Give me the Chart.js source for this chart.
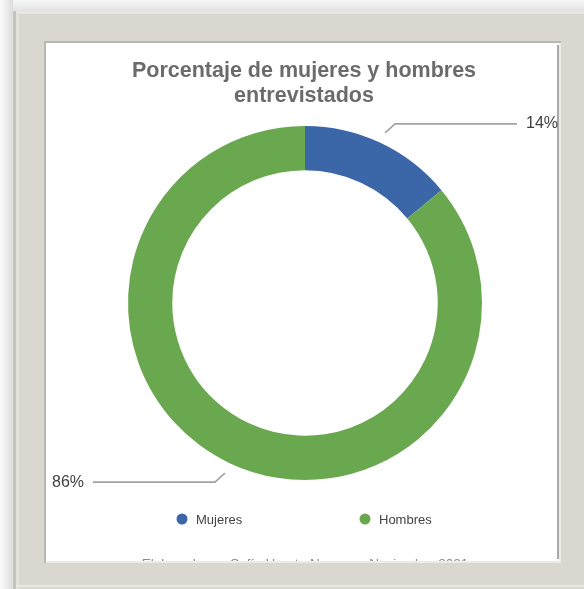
<!DOCTYPE html>
<html>
<head>
<meta charset="utf-8">
<script src="https://cdn.jsdelivr.net/npm/chart.js@4/dist/chart.umd.min.js"></script>
<style>
html,body{margin:0;padding:0;background:#fff;}
canvas{display:block;}
</style>
</head>
<body>
<canvas id="c" width="584" height="589"></canvas>
<script>
// ---- data ----
const categories = ['Mujeres', 'Hombres'];
const values = [14, 86];
const valueLabels = ['14%', '86%'];
const titleLines = ['Porcentaje de mujeres y hombres', 'entrevistados'];
const footerText = 'Elaborado por Sofía Huerta Noguera. Noviembre 2021';

const sliceColors = ['#3b66a8', '#69a84f'];
const FONT = '"Liberation Sans", Arial, Helvetica, sans-serif';

const panel = {x: 46, y: 43, w: 513, h: 518};

const framePlugin = {
  id: 'frame',
  beforeDraw(chart) {
    const ctx = chart.ctx;
    ctx.save();
    ctx.fillStyle = '#f4f4f4';
    ctx.fillRect(0, 0, 584, 589);
    let g = ctx.createLinearGradient(0, 0, 13, 0);
    g.addColorStop(0, '#fbfbfb'); g.addColorStop(1, '#dcdcdc');
    ctx.fillStyle = g; ctx.fillRect(0, 0, 13, 589);
    g = ctx.createLinearGradient(0, 0, 0, 11);
    g.addColorStop(0, '#f7f7f7'); g.addColorStop(1, '#e2e2e2');
    ctx.fillStyle = g; ctx.fillRect(13, 0, 571, 11);
    // frame
    ctx.fillStyle = '#d9d7cf';
    ctx.fillRect(13, 11, 571, 578);
    ctx.fillStyle = '#c4c3bb';
    ctx.fillRect(13, 11, 3, 578);
    ctx.fillStyle = '#e6e5de';
    ctx.fillRect(16, 11, 568, 3);
    ctx.fillStyle = '#e3e2dc';
    ctx.fillRect(16, 14, 3, 575);
    ctx.fillStyle = '#e8e7e1';
    ctx.fillRect(16, 585, 568, 2);
    // inner bevel
    ctx.fillStyle = '#b9b8b2';
    ctx.fillRect(panel.x - 2, panel.y - 2, panel.w + 4, panel.h + 4);
    ctx.fillStyle = '#ecebe6';
    ctx.fillRect(panel.x, panel.y + panel.h, panel.w + 2, 2);
    ctx.fillRect(panel.x + panel.w, panel.y, 2, panel.h + 2);
    // white panel
    ctx.fillStyle = '#ffffff';
    ctx.fillRect(panel.x, panel.y, panel.w, panel.h);
    ctx.fillStyle = '#a9a9a6';
    ctx.fillRect(panel.x + panel.w - 2, panel.y + 2, 2, panel.h - 4);
    ctx.restore();
  },
  afterDraw(chart) {
    const ctx = chart.ctx;
    const meta = chart.getDatasetMeta(0);
    ctx.save();
    // title
    ctx.fillStyle = '#6b6b6b';
    ctx.font = 'bold 21.5px ' + FONT;
    ctx.textAlign = 'center';
    ctx.textBaseline = 'middle';
    titleLines.forEach((t, i) => ctx.fillText(t, 304, 71 + i * 25));

    // leader lines + value labels
    meta.data.forEach((arc, i) => {
      const mid = (arc.startAngle + arc.endAngle) / 2;
      const r = arc.outerRadius + 11;
      const sx = arc.x + Math.cos(mid) * r;
      const sy = arc.y + Math.sin(mid) * r;
      const right = Math.cos(mid) >= 0;
      const ex = sx + (right ? 10 : -10);
      const ey = sy + (right ? -9 : 9);
      const hx = right ? 517 : 93;
      ctx.strokeStyle = '#a3a3a3';
      ctx.lineWidth = 1.6;
      ctx.beginPath();
      ctx.moveTo(sx, sy); ctx.lineTo(ex, ey); ctx.lineTo(hx, ey);
      ctx.stroke();
      ctx.fillStyle = '#404040';
      ctx.font = '16px ' + FONT;
      ctx.textBaseline = 'middle';
      ctx.textAlign = right ? 'left' : 'right';
      ctx.fillText(valueLabels[i], right ? 526 : 84, ey);
    });

    // legend
    const legendX = [182, 365];
    categories.forEach((c, i) => {
      ctx.fillStyle = sliceColors[i];
      ctx.beginPath();
      ctx.arc(legendX[i], 519, 5.5, 0, Math.PI * 2);
      ctx.fill();
      ctx.fillStyle = '#444444';
      ctx.font = '13px ' + FONT;
      ctx.textAlign = 'left';
      ctx.textBaseline = 'middle';
      ctx.fillText(c, legendX[i] + 14, 520);
    });

    // footer (clipped by frame)
    ctx.save();
    ctx.beginPath();
    ctx.rect(panel.x, panel.y, panel.w, panel.h);
    ctx.clip();
    ctx.fillStyle = '#8a8a8a';
    ctx.font = '13.5px ' + FONT;
    ctx.textAlign = 'center';
    ctx.textBaseline = 'alphabetic';
    ctx.fillText(footerText, 305, 568);
    ctx.restore();
    ctx.restore();
  }
};

new Chart(document.getElementById('c'), {
  type: 'doughnut',
  data: {
    labels: categories,
    datasets: [{
      data: values,
      backgroundColor: sliceColors,
      borderWidth: 0
    }]
  },
  options: {
    responsive: false,
    animation: false,
    cutout: '75%',
    layout: {padding: {left: 128, top: 126, right: 102, bottom: 109}},
    plugins: {
      legend: {display: false},
      title: {display: false},
      tooltip: {enabled: false}
    }
  },
  plugins: [framePlugin]
});
</script>
</body>
</html>
